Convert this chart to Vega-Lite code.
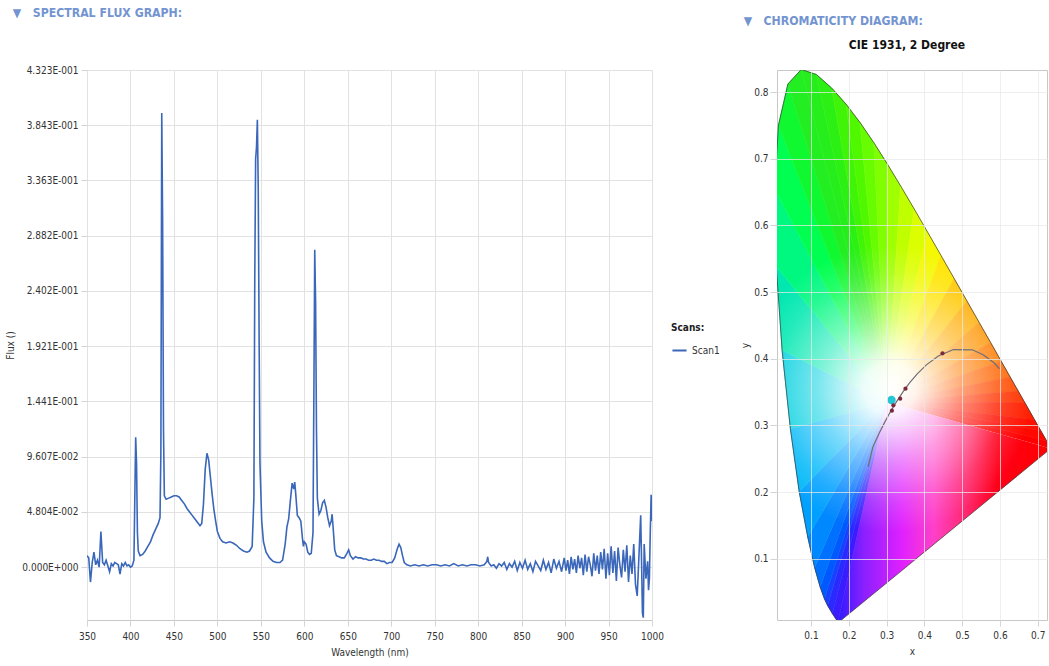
{
  "$schema": "https://vega.github.io/schema/vega-lite/v6.json",
  "background": "white",
  "padding": {"left": 5, "top": 6, "right": 0, "bottom": 0},
  "spacing": 76,
  "config": {
    "font": "DejaVu Sans Condensed",
    "view": {"stroke": "#c8c8c8"},
    "axis": {
      "labelFont": "DejaVu Sans Condensed",
      "labelFontSize": 10,
      "labelColor": "#333333",
      "titleFont": "DejaVu Sans Condensed",
      "titleFontSize": 10,
      "titleFontWeight": "normal",
      "titleColor": "#333333",
      "gridColor": "#e2e2e2",
      "tickColor": "#d4d4d4",
      "tickSize": 6,
      "domain": false
    },
    "title": {
      "font": "DejaVu Sans Condensed",
      "fontSize": 12.2,
      "fontWeight": "bold",
      "color": "#7394d0",
      "anchor": "start",
      "frame": "bounds",
      "subtitleFont": "DejaVu Sans Condensed",
      "subtitleFontSize": 12,
      "subtitleFontWeight": "bold",
      "subtitleColor": "#111111"
    }
  },
  "datasets": {
    "spectrum": [
      {"nm":350,"flux":0.010},{"nm":352,"flux":0.008},{"nm":354,"flux":-0.013},{"nm":356,"flux":0.004},{"nm":358,"flux":0.013},
      {"nm":360,"flux":0.002},{"nm":362,"flux":0.006},{"nm":364,"flux":0.000},{"nm":366,"flux":0.031},{"nm":368,"flux":0.004},
      {"nm":370,"flux":0.002},{"nm":372,"flux":0.006},{"nm":374,"flux":0.001},{"nm":376,"flux":-0.004},{"nm":378,"flux":0.003},
      {"nm":380,"flux":0.001},{"nm":382,"flux":0.004},{"nm":384,"flux":0.003},{"nm":386,"flux":0.002},{"nm":388,"flux":-0.006},
      {"nm":390,"flux":0.003},{"nm":392,"flux":0.001},{"nm":394,"flux":0.004},{"nm":396,"flux":0.001},{"nm":398,"flux":0.002},
      {"nm":400,"flux":0.000},{"nm":402,"flux":0.001},{"nm":404,"flux":0.006},{"nm":405,"flux":0.060},{"nm":406,"flux":0.113},
      {"nm":407,"flux":0.090},{"nm":408,"flux":0.030},{"nm":409,"flux":0.014},{"nm":411,"flux":0.010},{"nm":414,"flux":0.011},
      {"nm":417,"flux":0.014},{"nm":420,"flux":0.018},{"nm":423,"flux":0.022},{"nm":426,"flux":0.028},{"nm":429,"flux":0.033},
      {"nm":432,"flux":0.038},{"nm":434,"flux":0.043},{"nm":435,"flux":0.100},{"nm":436,"flux":0.395},{"nm":437,"flux":0.300},
      {"nm":438,"flux":0.120},{"nm":439,"flux":0.062},{"nm":441,"flux":0.059},{"nm":444,"flux":0.060},{"nm":447,"flux":0.061},
      {"nm":450,"flux":0.062},{"nm":453,"flux":0.062},{"nm":456,"flux":0.061},{"nm":459,"flux":0.058},{"nm":462,"flux":0.055},
      {"nm":465,"flux":0.051},{"nm":468,"flux":0.048},{"nm":471,"flux":0.045},{"nm":474,"flux":0.042},{"nm":477,"flux":0.039},
      {"nm":480,"flux":0.036},{"nm":482,"flux":0.038},{"nm":484,"flux":0.055},{"nm":486,"flux":0.085},{"nm":488,"flux":0.099},
      {"nm":490,"flux":0.093},{"nm":492,"flux":0.078},{"nm":494,"flux":0.063},{"nm":496,"flux":0.050},{"nm":498,"flux":0.040},
      {"nm":500,"flux":0.031},{"nm":503,"flux":0.025},{"nm":506,"flux":0.022},{"nm":510,"flux":0.021},{"nm":514,"flux":0.022},
      {"nm":518,"flux":0.021},{"nm":522,"flux":0.019},{"nm":526,"flux":0.016},{"nm":530,"flux":0.014},{"nm":534,"flux":0.013},
      {"nm":537,"flux":0.014},{"nm":540,"flux":0.018},{"nm":542,"flux":0.060},{"nm":543,"flux":0.250},{"nm":544,"flux":0.355},
      {"nm":545,"flux":0.365},{"nm":546,"flux":0.389},{"nm":547,"flux":0.330},{"nm":548,"flux":0.200},{"nm":549,"flux":0.090},
      {"nm":551,"flux":0.040},{"nm":553,"flux":0.022},{"nm":556,"flux":0.013},{"nm":560,"flux":0.008},{"nm":564,"flux":0.005},
      {"nm":568,"flux":0.004},{"nm":572,"flux":0.004},{"nm":575,"flux":0.006},{"nm":578,"flux":0.020},{"nm":580,"flux":0.035},
      {"nm":582,"flux":0.042},{"nm":584,"flux":0.058},{"nm":586,"flux":0.073},{"nm":588,"flux":0.068},{"nm":589,"flux":0.074},
      {"nm":590,"flux":0.065},{"nm":592,"flux":0.045},{"nm":594,"flux":0.043},{"nm":596,"flux":0.040},{"nm":598,"flux":0.024},
      {"nm":599,"flux":0.018},{"nm":600,"flux":0.022},{"nm":602,"flux":0.020},{"nm":604,"flux":0.013},{"nm":606,"flux":0.011},
      {"nm":608,"flux":0.012},{"nm":610,"flux":0.030},{"nm":611,"flux":0.150},{"nm":612,"flux":0.276},{"nm":613,"flux":0.230},
      {"nm":614,"flux":0.120},{"nm":615,"flux":0.060},{"nm":617,"flux":0.046},{"nm":619,"flux":0.049},{"nm":621,"flux":0.056},
      {"nm":623,"flux":0.058},{"nm":625,"flux":0.052},{"nm":627,"flux":0.043},{"nm":629,"flux":0.036},{"nm":631,"flux":0.040},
      {"nm":632,"flux":0.046},{"nm":633,"flux":0.036},{"nm":635,"flux":0.015},{"nm":637,"flux":0.010},{"nm":640,"flux":0.009},
      {"nm":643,"flux":0.008},{"nm":646,"flux":0.008},{"nm":649,"flux":0.012},{"nm":651,"flux":0.015},{"nm":653,"flux":0.010},
      {"nm":656,"flux":0.007},{"nm":659,"flux":0.009},{"nm":662,"flux":0.008},{"nm":665,"flux":0.008},{"nm":668,"flux":0.007},
      {"nm":671,"flux":0.007},{"nm":674,"flux":0.006},{"nm":677,"flux":0.006},{"nm":680,"flux":0.007},{"nm":683,"flux":0.006},
      {"nm":686,"flux":0.006},{"nm":689,"flux":0.005},{"nm":692,"flux":0.005},{"nm":695,"flux":0.003},{"nm":698,"flux":0.004},
      {"nm":701,"flux":0.004},{"nm":704,"flux":0.008},{"nm":707,"flux":0.016},{"nm":709,"flux":0.020},{"nm":711,"flux":0.017},
      {"nm":713,"flux":0.010},{"nm":715,"flux":0.004},{"nm":718,"flux":0.002},{"nm":722,"flux":0.001},{"nm":727,"flux":0.002},
      {"nm":732,"flux":0.001},{"nm":737,"flux":0.002},{"nm":742,"flux":0.001},{"nm":747,"flux":0.002},{"nm":752,"flux":0.002},
      {"nm":757,"flux":0.001},{"nm":762,"flux":0.002},{"nm":767,"flux":0.001},{"nm":772,"flux":0.003},{"nm":777,"flux":0.001},
      {"nm":782,"flux":0.002},{"nm":787,"flux":0.001},{"nm":792,"flux":0.002},{"nm":797,"flux":0.002},{"nm":802,"flux":0.001},
      {"nm":807,"flux":0.002},{"nm":810,"flux":0.005},{"nm":811,"flux":0.009},{"nm":812,"flux":0.004},{"nm":815,"flux":0.001},
      {"nm":818,"flux":0.002},{"nm":821,"flux":-0.001},{"nm":824,"flux":0.003},{"nm":827,"flux":0.001},{"nm":830,"flux":0.004},
      {"nm":833,"flux":-0.002},{"nm":836,"flux":0.003},{"nm":839,"flux":0.000},{"nm":842,"flux":0.005},{"nm":845,"flux":-0.003},
      {"nm":848,"flux":0.004},{"nm":851,"flux":-0.001},{"nm":854,"flux":0.006},{"nm":857,"flux":-0.002},{"nm":860,"flux":0.003},
      {"nm":863,"flux":-0.004},{"nm":866,"flux":0.005},{"nm":869,"flux":0.001},{"nm":872,"flux":-0.003},{"nm":875,"flux":0.006},
      {"nm":878,"flux":-0.002},{"nm":881,"flux":0.004},{"nm":884,"flux":-0.005},{"nm":887,"flux":0.007},{"nm":890,"flux":-0.001},
      {"nm":893,"flux":0.005},{"nm":896,"flux":-0.004},{"nm":899,"flux":0.008},{"nm":901,"flux":-0.003},{"nm":903,"flux":0.006},
      {"nm":905,"flux":-0.006},{"nm":907,"flux":0.009},{"nm":909,"flux":-0.002},{"nm":911,"flux":0.007},{"nm":913,"flux":-0.005},
      {"nm":915,"flux":0.010},{"nm":917,"flux":-0.001},{"nm":919,"flux":0.008},{"nm":921,"flux":-0.007},{"nm":923,"flux":0.011},
      {"nm":925,"flux":-0.004},{"nm":927,"flux":0.009},{"nm":929,"flux":0.002},{"nm":931,"flux":-0.008},{"nm":933,"flux":0.012},
      {"nm":935,"flux":-0.003},{"nm":937,"flux":0.010},{"nm":939,"flux":-0.006},{"nm":941,"flux":0.013},{"nm":943,"flux":-0.002},
      {"nm":945,"flux":0.016},{"nm":947,"flux":-0.010},{"nm":949,"flux":0.012},{"nm":951,"flux":-0.007},{"nm":953,"flux":0.018},
      {"nm":955,"flux":-0.005},{"nm":957,"flux":0.014},{"nm":959,"flux":-0.012},{"nm":961,"flux":0.017},{"nm":963,"flux":0.002},
      {"nm":965,"flux":-0.009},{"nm":967,"flux":0.015},{"nm":969,"flux":-0.004},{"nm":971,"flux":0.019},{"nm":973,"flux":-0.013},
      {"nm":975,"flux":0.010},{"nm":977,"flux":-0.006},{"nm":979,"flux":0.020},{"nm":981,"flux":-0.015},{"nm":983,"flux":-0.025},
      {"nm":985,"flux":0.010},{"nm":987,"flux":0.045},{"nm":988,"flux":0.005},{"nm":989,"flux":-0.040},{"nm":990,"flux":-0.044},
      {"nm":991,"flux":0.020},{"nm":993,"flux":-0.010},{"nm":995,"flux":0.005},{"nm":996,"flux":-0.020},{"nm":997,"flux":-0.010},
      {"nm":998,"flux":0.030},{"nm":999,"flux":0.063},{"nm":1000,"flux":0.040}
    ],
    "locus": [
      {"o":0,"x":0.1714,"y":0.0051},{"o":1,"x":0.1566,"y":0.0177},{"o":2,"x":0.1440,"y":0.0297},{"o":3,"x":0.1355,"y":0.0399},
      {"o":4,"x":0.1241,"y":0.0578},{"o":5,"x":0.1096,"y":0.0868},{"o":6,"x":0.0913,"y":0.1327},{"o":7,"x":0.0687,"y":0.2007},
      {"o":8,"x":0.0454,"y":0.2950},{"o":9,"x":0.0235,"y":0.4127},{"o":10,"x":0.0082,"y":0.5384},{"o":11,"x":0.0039,"y":0.6548},
      {"o":12,"x":0.0139,"y":0.7502},{"o":13,"x":0.0389,"y":0.8120},{"o":14,"x":0.0743,"y":0.8338},{"o":15,"x":0.1142,"y":0.8262},
      {"o":16,"x":0.1547,"y":0.8059},{"o":17,"x":0.1929,"y":0.7816},{"o":18,"x":0.2296,"y":0.7543},{"o":19,"x":0.2658,"y":0.7243},
      {"o":20,"x":0.3016,"y":0.6923},{"o":21,"x":0.3373,"y":0.6589},{"o":22,"x":0.3731,"y":0.6245},{"o":23,"x":0.4087,"y":0.5896},
      {"o":24,"x":0.4441,"y":0.5547},{"o":25,"x":0.4788,"y":0.5202},{"o":26,"x":0.5125,"y":0.4866},{"o":27,"x":0.5448,"y":0.4544},
      {"o":28,"x":0.5752,"y":0.4242},{"o":29,"x":0.6029,"y":0.3965},{"o":30,"x":0.6270,"y":0.3725},{"o":31,"x":0.6482,"y":0.3514},
      {"o":32,"x":0.6658,"y":0.3340},{"o":33,"x":0.6915,"y":0.3083},{"o":34,"x":0.7079,"y":0.2920},{"o":35,"x":0.7230,"y":0.2770},
      {"o":36,"x":0.7347,"y":0.2653},{"o":37,"x":0.1741,"y":0.0050},{"o":38,"x":0.1714,"y":0.0051}
    ],
    "fan": [
      {"t":0,"o":0,"x":0.30,"y":0.335},{"t":0,"o":1,"x":0.1714,"y":0.0051},{"t":0,"o":2,"x":0.1566,"y":0.0177},
      {"t":1,"o":0,"x":0.30,"y":0.335},{"t":1,"o":1,"x":0.1566,"y":0.0177},{"t":1,"o":2,"x":0.1440,"y":0.0297},
      {"t":2,"o":0,"x":0.30,"y":0.335},{"t":2,"o":1,"x":0.1440,"y":0.0297},{"t":2,"o":2,"x":0.1355,"y":0.0399},
      {"t":3,"o":0,"x":0.30,"y":0.335},{"t":3,"o":1,"x":0.1355,"y":0.0399},{"t":3,"o":2,"x":0.1241,"y":0.0578},
      {"t":4,"o":0,"x":0.30,"y":0.335},{"t":4,"o":1,"x":0.1241,"y":0.0578},{"t":4,"o":2,"x":0.1096,"y":0.0868},
      {"t":5,"o":0,"x":0.30,"y":0.335},{"t":5,"o":1,"x":0.1096,"y":0.0868},{"t":5,"o":2,"x":0.0913,"y":0.1327},
      {"t":6,"o":0,"x":0.30,"y":0.335},{"t":6,"o":1,"x":0.0913,"y":0.1327},{"t":6,"o":2,"x":0.0687,"y":0.2007},
      {"t":7,"o":0,"x":0.30,"y":0.335},{"t":7,"o":1,"x":0.0687,"y":0.2007},{"t":7,"o":2,"x":0.0454,"y":0.2950},
      {"t":8,"o":0,"x":0.30,"y":0.335},{"t":8,"o":1,"x":0.0454,"y":0.2950},{"t":8,"o":2,"x":0.0235,"y":0.4127},
      {"t":9,"o":0,"x":0.30,"y":0.335},{"t":9,"o":1,"x":0.0235,"y":0.4127},{"t":9,"o":2,"x":0.0082,"y":0.5384},
      {"t":10,"o":0,"x":0.30,"y":0.335},{"t":10,"o":1,"x":0.0082,"y":0.5384},{"t":10,"o":2,"x":0.0039,"y":0.6548},
      {"t":11,"o":0,"x":0.30,"y":0.335},{"t":11,"o":1,"x":0.0039,"y":0.6548},{"t":11,"o":2,"x":0.0139,"y":0.7502},
      {"t":12,"o":0,"x":0.30,"y":0.335},{"t":12,"o":1,"x":0.0139,"y":0.7502},{"t":12,"o":2,"x":0.0389,"y":0.8120},
      {"t":13,"o":0,"x":0.30,"y":0.335},{"t":13,"o":1,"x":0.0389,"y":0.8120},{"t":13,"o":2,"x":0.0743,"y":0.8338},
      {"t":14,"o":0,"x":0.30,"y":0.335},{"t":14,"o":1,"x":0.0743,"y":0.8338},{"t":14,"o":2,"x":0.1142,"y":0.8262},
      {"t":15,"o":0,"x":0.30,"y":0.335},{"t":15,"o":1,"x":0.1142,"y":0.8262},{"t":15,"o":2,"x":0.1547,"y":0.8059},
      {"t":16,"o":0,"x":0.30,"y":0.335},{"t":16,"o":1,"x":0.1547,"y":0.8059},{"t":16,"o":2,"x":0.1929,"y":0.7816},
      {"t":17,"o":0,"x":0.30,"y":0.335},{"t":17,"o":1,"x":0.1929,"y":0.7816},{"t":17,"o":2,"x":0.2296,"y":0.7543},
      {"t":18,"o":0,"x":0.30,"y":0.335},{"t":18,"o":1,"x":0.2296,"y":0.7543},{"t":18,"o":2,"x":0.2658,"y":0.7243},
      {"t":19,"o":0,"x":0.30,"y":0.335},{"t":19,"o":1,"x":0.2658,"y":0.7243},{"t":19,"o":2,"x":0.3016,"y":0.6923},
      {"t":20,"o":0,"x":0.30,"y":0.335},{"t":20,"o":1,"x":0.3016,"y":0.6923},{"t":20,"o":2,"x":0.3373,"y":0.6589},
      {"t":21,"o":0,"x":0.30,"y":0.335},{"t":21,"o":1,"x":0.3373,"y":0.6589},{"t":21,"o":2,"x":0.3731,"y":0.6245},
      {"t":22,"o":0,"x":0.30,"y":0.335},{"t":22,"o":1,"x":0.3731,"y":0.6245},{"t":22,"o":2,"x":0.4087,"y":0.5896},
      {"t":23,"o":0,"x":0.30,"y":0.335},{"t":23,"o":1,"x":0.4087,"y":0.5896},{"t":23,"o":2,"x":0.4441,"y":0.5547},
      {"t":24,"o":0,"x":0.30,"y":0.335},{"t":24,"o":1,"x":0.4441,"y":0.5547},{"t":24,"o":2,"x":0.4788,"y":0.5202},
      {"t":25,"o":0,"x":0.30,"y":0.335},{"t":25,"o":1,"x":0.4788,"y":0.5202},{"t":25,"o":2,"x":0.5125,"y":0.4866},
      {"t":26,"o":0,"x":0.30,"y":0.335},{"t":26,"o":1,"x":0.5125,"y":0.4866},{"t":26,"o":2,"x":0.5448,"y":0.4544},
      {"t":27,"o":0,"x":0.30,"y":0.335},{"t":27,"o":1,"x":0.5448,"y":0.4544},{"t":27,"o":2,"x":0.5752,"y":0.4242},
      {"t":28,"o":0,"x":0.30,"y":0.335},{"t":28,"o":1,"x":0.5752,"y":0.4242},{"t":28,"o":2,"x":0.6029,"y":0.3965},
      {"t":29,"o":0,"x":0.30,"y":0.335},{"t":29,"o":1,"x":0.6029,"y":0.3965},{"t":29,"o":2,"x":0.6270,"y":0.3725},
      {"t":30,"o":0,"x":0.30,"y":0.335},{"t":30,"o":1,"x":0.6270,"y":0.3725},{"t":30,"o":2,"x":0.6482,"y":0.3514},
      {"t":31,"o":0,"x":0.30,"y":0.335},{"t":31,"o":1,"x":0.6482,"y":0.3514},{"t":31,"o":2,"x":0.6658,"y":0.3340},
      {"t":32,"o":0,"x":0.30,"y":0.335},{"t":32,"o":1,"x":0.6658,"y":0.3340},{"t":32,"o":2,"x":0.6915,"y":0.3083},
      {"t":33,"o":0,"x":0.30,"y":0.335},{"t":33,"o":1,"x":0.6915,"y":0.3083},{"t":33,"o":2,"x":0.7079,"y":0.2920},
      {"t":34,"o":0,"x":0.30,"y":0.335},{"t":34,"o":1,"x":0.7079,"y":0.2920},{"t":34,"o":2,"x":0.7230,"y":0.2770},
      {"t":35,"o":0,"x":0.30,"y":0.335},{"t":35,"o":1,"x":0.7230,"y":0.2770},{"t":35,"o":2,"x":0.7347,"y":0.2653}
    ],
    "purple": [
      {"o":0,"x":0.30,"y":0.335},{"o":1,"x":0.7347,"y":0.2653},{"o":2,"x":0.1741,"y":0.0050},{"o":3,"x":0.1714,"y":0.0051}
    ],
    "planck": [
      {"o":0,"x":0.251,"y":0.238},{"o":1,"x":0.2637,"y":0.2674},{"o":2,"x":0.2807,"y":0.2884},{"o":3,"x":0.2952,"y":0.3048},
      {"o":4,"x":0.3064,"y":0.3166},{"o":5,"x":0.3221,"y":0.3318},{"o":6,"x":0.3451,"y":0.3516},{"o":7,"x":0.3608,"y":0.3636},
      {"o":8,"x":0.3805,"y":0.3768},{"o":9,"x":0.4053,"y":0.3907},{"o":10,"x":0.4369,"y":0.4041},{"o":11,"x":0.4770,"y":0.4137},
      {"o":12,"x":0.5267,"y":0.4133},{"o":13,"x":0.5557,"y":0.4058},{"o":14,"x":0.5857,"y":0.3931},{"o":15,"x":0.5985,"y":0.3849}
    ],
    "pts": [
      {"x":0.314,"y":0.322},{"x":0.318,"y":0.330},{"x":0.336,"y":0.340},{"x":0.350,"y":0.355},{"x":0.448,"y":0.408}
    ],
    "sample": [
      {"x":0.313,"y":0.338}
    ]
  },
  "hconcat": [
    {
      "title": {"text": "▼\u00a0\u00a0\u00a0SPECTRAL FLUX GRAPH:", "offset": 46, "dx": 7},
      "width": 565,
      "height": 550,
      "data": {"name": "spectrum"},
      "mark": {"type": "line", "strokeWidth": 1.6, "clip": true},
      "encoding": {
        "x": {
          "field": "nm", "type": "quantitative",
          "scale": {"domain": [350, 1000], "nice": false, "zero": false},
          "axis": {"values": [350,400,450,500,550,600,650,700,750,800,850,900,950,1000], "format": "d", "title": "Wavelength (nm)", "labelPadding": 5, "titlePadding": 6, "labelFlush": false}
        },
        "y": {
          "field": "flux", "type": "quantitative",
          "scale": {"domain": [-0.046, 0.43234], "nice": false, "zero": false},
          "axis": {
            "values": [0, 0.048036, 0.096072, 0.144108, 0.192144, 0.24018, 0.288216, 0.336252, 0.384288, 0.432324],
            "labelExpr": "datum.value == 0 ? '0.000E+000' : replace(format(datum.value, '.3e'), 'e-', 'E-00')",
            "title": "Flux ()", "titlePadding": 6, "labelPadding": 3
          }
        },
        "color": {
          "datum": "Scan1", "type": "nominal",
          "scale": {"range": ["#3a67ba"]},
          "legend": {
            "title": "Scans:", "orient": "none", "legendX": 584, "legendY": 253,
            "symbolType": "stroke", "symbolStrokeWidth": 2, "symbolSize": 200,
            "titleFontSize": 10, "titleFontWeight": "bold", "titleColor": "#222222",
            "labelFontSize": 10, "labelColor": "#333333", "titlePadding": 9,
            "titleFont": "DejaVu Sans Condensed", "labelFont": "DejaVu Sans Condensed"
          }
        }
      }
    },
    {
      "title": {
        "text": "▼\u00a0\u00a0\u00a0CHROMATICITY DIAGRAM:",
        "subtitle": "\u200b\u00a0\u00a0\u00a0\u00a0\u00a0\u00a0\u00a0\u00a0\u00a0\u00a0\u00a0\u00a0\u00a0\u00a0\u00a0\u00a0\u00a0\u00a0\u00a0\u00a0\u00a0\u00a0\u00a0\u00a0\u00a0\u00a0\u00a0\u00a0CIE 1931, 2 Degree",
        "subtitlePadding": 13,
        "offset": 19,
        "dx": 3
      },
      "width": 270,
      "height": 550,
      "layer": [
        {
          "data": {"name": "fan"},
          "mark": {"type": "line", "filled": true, "strokeWidth": 0.8, "clip": true},
          "encoding": {
            "x": {"field": "x", "type": "quantitative", "scale": {"domain": [0.01, 0.7245], "nice": false, "zero": false},
              "axis": {"values": [0.1,0.2,0.3,0.4,0.5,0.6,0.7], "format": ".1f", "title": "x", "labelPadding": 4, "titlePadding": 6, "labelFlush": false, "tickSize": 6, "zindex": 1, "gridColor": "#e8e8e8", "gridOpacity": 0.75}},
            "y": {"field": "y", "type": "quantitative", "scale": {"domain": [0.008, 0.833], "nice": false, "zero": false},
              "axis": {"values": [0.1,0.2,0.3,0.4,0.5,0.6,0.7,0.8], "format": ".1f", "title": "y", "labelPadding": 2, "titlePadding": 3, "tickSize": 7, "zindex": 1, "gridColor": "#e8e8e8", "gridOpacity": 0.75}},
            "order": {"field": "o"},
            "detail": {"field": "t", "type": "ordinal"},
            "fill": {
              "field": "t", "type": "ordinal", "legend": null,
              "scale": {
                "domain": [0,1,2,3,4,5,6,7,8,9,10,11,12,13,14,15,16,17,18,19,20,21,22,23,24,25,26,27,28,29,30,31,32,33,34,35],
                "range": ["#3a1cff","#2a2aff","#1a40ff","#0058ff","#0070ff","#0088ff","#00a0ff","#00b8f8","#00d0e0","#00e8b0","#00f880","#00ff50","#10f830","#22ee22","#26ee1c","#2cf014","#40f408","#50f800","#68fc00","#80ff00","#a0ff00","#c0ff00","#dcff00","#f4f800","#ffe400","#ffc800","#ffac00","#ff9400","#ff7c00","#ff6400","#ff4c00","#ff3400","#ff2000","#ff1000","#ff0800","#ff0000"]
              }
            },
            "stroke": {
              "field": "t", "type": "ordinal", "legend": null,
              "scale": {
                "domain": [0,1,2,3,4,5,6,7,8,9,10,11,12,13,14,15,16,17,18,19,20,21,22,23,24,25,26,27,28,29,30,31,32,33,34,35],
                "range": ["#3a1cff","#2a2aff","#1a40ff","#0058ff","#0070ff","#0088ff","#00a0ff","#00b8f8","#00d0e0","#00e8b0","#00f880","#00ff50","#10f830","#22ee22","#26ee1c","#2cf014","#40f408","#50f800","#68fc00","#80ff00","#a0ff00","#c0ff00","#dcff00","#f4f800","#ffe400","#ffc800","#ffac00","#ff9400","#ff7c00","#ff6400","#ff4c00","#ff3400","#ff2000","#ff1000","#ff0800","#ff0000"]
              }
            }
          }
        },
        {
          "data": {"name": "purple"},
          "mark": {
            "type": "line", "clip": true, "strokeWidth": 0,
            "fill": {"gradient": "linear", "x1": 0, "y1": 0, "x2": 1, "y2": 0,
              "stops": [
                {"offset": 0, "color": "#3018ff"},
                {"offset": 0.12, "color": "#8a20ff"},
                {"offset": 0.3, "color": "#e020ff"},
                {"offset": 0.45, "color": "#ff40c8"},
                {"offset": 0.6, "color": "#ff2870"},
                {"offset": 0.75, "color": "#ff0018"},
                {"offset": 1, "color": "#ff0000"}
              ]}
          },
          "encoding": {
            "x": {"field": "x", "type": "quantitative"},
            "y": {"field": "y", "type": "quantitative"},
            "order": {"field": "o"}
          }
        },
        {
          "data": {"name": "locus"},
          "mark": {
            "type": "line", "clip": true, "stroke": "#3a3a3a", "strokeWidth": 0.7,
            "fill": {"gradient": "radial", "x1": 0.458, "y1": 0.577, "r1": 0, "x2": 0.458, "y2": 0.577, "r2": 0.26,
              "stops": [
                {"offset": 0, "color": "rgba(255,255,255,1)"},
                {"offset": 0.18, "color": "rgba(255,255,255,0.93)"},
                {"offset": 0.5, "color": "rgba(255,255,255,0.48)"},
                {"offset": 0.8, "color": "rgba(255,255,255,0.14)"},
                {"offset": 1, "color": "rgba(255,255,255,0)"}
              ]}
          },
          "encoding": {
            "x": {"field": "x", "type": "quantitative"},
            "y": {"field": "y", "type": "quantitative"},
            "order": {"field": "o"}
          }
        },
        {
          "data": {"name": "planck"},
          "mark": {"type": "line", "stroke": "#6e6e78", "strokeWidth": 1.2, "clip": true},
          "encoding": {
            "x": {"field": "x", "type": "quantitative"},
            "y": {"field": "y", "type": "quantitative"},
            "order": {"field": "o"}
          }
        },
        {
          "data": {"name": "sample"},
          "mark": {"type": "circle", "color": "#22c6d6", "size": 70, "opacity": 1},
          "encoding": {
            "x": {"field": "x", "type": "quantitative"},
            "y": {"field": "y", "type": "quantitative"}
          }
        },
        {
          "data": {"name": "pts"},
          "mark": {"type": "circle", "color": "#7a2a3a", "size": 18, "opacity": 1},
          "encoding": {
            "x": {"field": "x", "type": "quantitative"},
            "y": {"field": "y", "type": "quantitative"}
          }
        }
      ]
    }
  ]
}
